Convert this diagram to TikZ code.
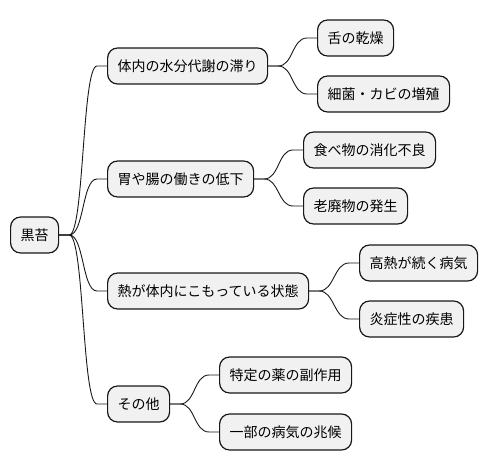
\documentclass[tikz,border=0pt]{standalone}
\usepackage{fontspec}
\usepackage{tikz}
\newfontfamily\cjk{Noto Sans CJK JP}
\definecolor{boxfill}{HTML}{F1F1F1}
\definecolor{boxline}{HTML}{181818}

\begin{document}
\begin{tikzpicture}[x=1bp,y=1bp,
  topic/.style={draw=boxline,fill=boxfill,line width=1.2bp,rounded corners=10bp,
    anchor=west,minimum height=36bp,inner xsep=10bp,inner ysep=0bp,
    font=\cjk\fontsize{14bp}{16bp}\selectfont},
  link/.style={draw=boxline,line width=0.9bp}]
  \useasboundingbox (0,0) rectangle (488,-471);
  % root and first level
  \node [topic] (z) at (10,-235) {黒苔};
  \node [topic] (a) at (107,-66) {体内の水分代謝の滞り};
  \node [topic] (b) at (107,-179) {胃や腸の働きの低下};
  \node [topic] (c) at (107,-291) {熱が体内にこもっている状態};
  \node [topic] (d) at (107,-404) {その他};
  % second level
  \node [topic] (aa) at (317,-38) {舌の乾燥};
  \node [topic] (ab) at (317,-94) {細菌・カビの増殖};
  \node [topic] (ba) at (303,-150) {食べ物の消化不良};
  \node [topic] (bb) at (303,-206) {老廃物の発生};
  \node [topic] (ca) at (359,-263) {高熱が続く病気};
  \node [topic] (cb) at (359,-319) {炎症性の疾患};
  \node [topic] (da) at (219,-375) {特定の薬の副作用};
  \node [topic] (db) at (219,-432) {一部の病気の兆候};
  % connectors
  \draw [link] (z.east) -- ++(10,0) .. controls +(15,0) and +(-15,0) .. ([xshift=-10bp]a.west) -- (a.west);
  \draw [link] (z.east) -- ++(10,0) .. controls +(15,0) and +(-15,0) .. ([xshift=-10bp]b.west) -- (b.west);
  \draw [link] (z.east) -- ++(10,0) .. controls +(15,0) and +(-15,0) .. ([xshift=-10bp]c.west) -- (c.west);
  \draw [link] (z.east) -- ++(10,0) .. controls +(15,0) and +(-15,0) .. ([xshift=-10bp]d.west) -- (d.west);
  \draw [link] (a.east) -- ++(10,0) .. controls +(15,0) and +(-15,0) .. ([xshift=-10bp]aa.west) -- (aa.west);
  \draw [link] (a.east) -- ++(10,0) .. controls +(15,0) and +(-15,0) .. ([xshift=-10bp]ab.west) -- (ab.west);
  \draw [link] (b.east) -- ++(10,0) .. controls +(15,0) and +(-15,0) .. ([xshift=-10bp]ba.west) -- (ba.west);
  \draw [link] (b.east) -- ++(10,0) .. controls +(15,0) and +(-15,0) .. ([xshift=-10bp]bb.west) -- (bb.west);
  \draw [link] (c.east) -- ++(10,0) .. controls +(15,0) and +(-15,0) .. ([xshift=-10bp]ca.west) -- (ca.west);
  \draw [link] (c.east) -- ++(10,0) .. controls +(15,0) and +(-15,0) .. ([xshift=-10bp]cb.west) -- (cb.west);
  \draw [link] (d.east) -- ++(10,0) .. controls +(15,0) and +(-15,0) .. ([xshift=-10bp]da.west) -- (da.west);
  \draw [link] (d.east) -- ++(10,0) .. controls +(15,0) and +(-15,0) .. ([xshift=-10bp]db.west) -- (db.west);
\end{tikzpicture}
\end{document}
